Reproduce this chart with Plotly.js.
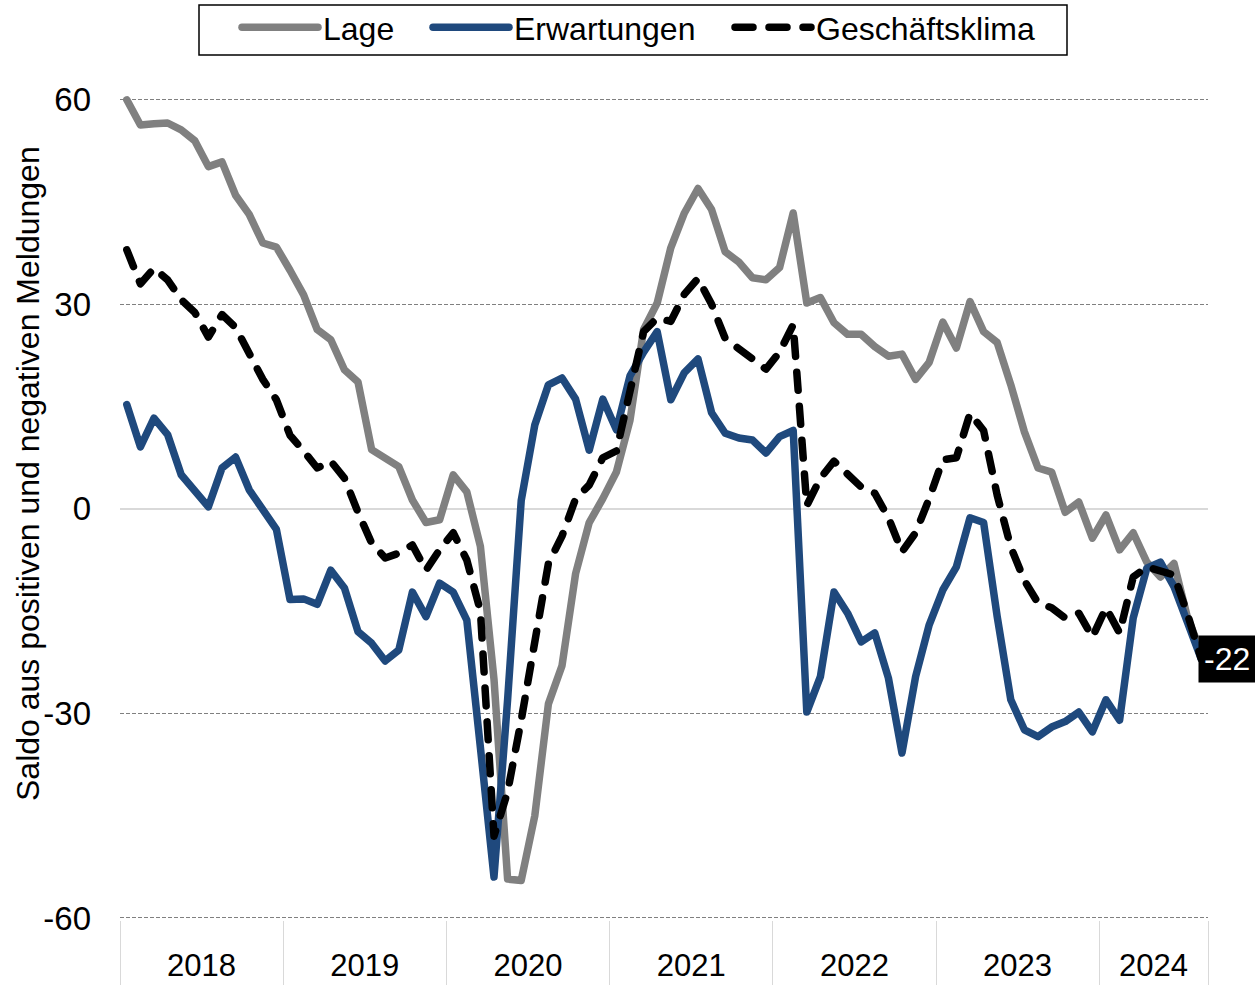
<!DOCTYPE html>
<html>
<head>
<meta charset="utf-8">
<script src="https://cdn.plot.ly/plotly-3.0.1.min.js"></script>
<style>
html,body{margin:0;padding:0;background:#ffffff;}
#chart{width:1255px;height:985px;}
</style>
</head>
<body>
<div id="chart"></div>
<script>
// ---- data (monthly, Jan 2018 - Aug 2024) ----
const years = ['2018','2019','2020','2021','2022','2023','2024'];
const monthsPerYear = [12,12,12,12,12,12,8];

const lage = [
  60, 56.3, 56.5, 56.6, 55.6, 54, 50.2, 50.9, 46, 43.2, 39, 38.4,
  35, 31.4, 26.3, 24.8, 20.4, 18.6, 8.7, 7.5, 6.2, 1.3, -2, -1.6,
  5, 2.5, -5.5, -25, -54.3, -54.5, -45, -28.6, -23, -9.5, -2, 1.5,
  5.4, 13, 26.3, 30.2, 38.3, 43.4, 47, 43.9, 37.7, 36.2, 33.9, 33.6,
  35.4, 43.4, 30.2, 31, 27.3, 25.6, 25.6, 23.8, 22.4, 22.7, 19, 21.5,
  27.4, 23.6, 30.4, 26, 24.4, 18.2, 11.3, 6, 5.4, -0.5, 1, -4.3,
  -0.9, -6, -3.5, -7.8, -10, -8, -16, -21
];

const erwartungen = [
  15.3, 9.1, 13.3, 10.9, 5, 2.8, 0.3, 6, 7.6, 2.8, 0.1, -3,
  -13.3, -13.2, -14, -9, -11.6, -18, -19.7, -22.3, -20.7, -12.2, -15.8, -10.9,
  -12.2, -16.3, -35, -54, -28, 1.2, 12.3, 18.2, 19.2, 16.1, 8.6, 16.1,
  11.6, 19.5, 23, 26, 16, 20, 22, 14.1, 11.1, 10.4, 10.1, 8.2,
  10.6, 11.5, -29.8, -24.6, -12.2, -15.3, -19.5, -18.2, -24.8, -35.8, -24.6, -17,
  -11.9, -8.5, -1.3, -2, -15.8, -28, -32.4, -33.4, -32, -31.2, -29.8, -32.7,
  -28, -31, -16, -8.7, -7.8, -11.4, -16.7, -22
];

const klima = [
  38, 33, 35.3, 33.6, 30.7, 28.8, 25.2, 28.5, 26.6, 23, 19, 16,
  10.8, 8.5, 6, 7, 4.5, -0.5, -5, -7.2, -6.5, -5.3, -9, -6,
  -3.5, -7.5, -15, -48, -41.5, -31, -20, -8, -4, 1.5, 3.5, 7.5,
  8.5, 17, 26, 28, 27.5, 31.5, 33.8, 30, 25, 23.5, 22, 20.5,
  23, 27, 0.5, 4.5, 7, 5, 3.2, 2.3, -1.3, -6.3, -3.5, 1.5,
  7.2, 7.5, 14, 11.5, 2, -5.6, -10.5, -13.8, -14.5, -16, -15.3, -18.8,
  -14.5, -18.2, -10, -8.5, -9, -9.7, -15.5, -22
];

const yTicks = [-60, -30, 0, 30, 60];
const yTitle = 'Saldo aus positiven und negativen Meldungen';
const names = ['Lage', 'Erwartungen', 'Geschäftsklima'];

// ---- derived positions (month index axis) ----
const monthIdx = lage.map((_, i) => i);
const monthLabels = [];
years.forEach((y, k) => { for (let m = 1; m <= monthsPerYear[k]; m++) monthLabels.push(y + '-' + String(m).padStart(2, '0')); });
const bounds = [-0.5], centers = [];
let acc = -0.5;
monthsPerYear.forEach(n => { centers.push(acc + n / 2); acc += n; bounds.push(acc); });

const FONT = '"Liberation Sans", Arial, sans-serif';
const FS = 32;
const LW = 7.5;

const traces = [
  {x: monthIdx, y: lage, text: monthLabels, name: names[0], type: 'scatter', mode: 'lines',
   legend: 'legend', line: {color: '#808080', width: LW}},
  {x: monthIdx, y: erwartungen, text: monthLabels, name: names[1], type: 'scatter', mode: 'lines',
   legend: 'legend2', line: {color: '#1F497D', width: LW}},
  {x: monthIdx, y: klima, text: monthLabels, name: names[2], type: 'scatter', mode: 'lines',
   legend: 'legend3', line: {color: '#000000', width: LW, dash: '18px,16px'}}
];

const lastVal = erwartungen[erwartungen.length - 1];

// plot area: top 93px, bottom 920px (range slightly below -60 so that the -60 gridline shows)
const PT = 93, PB = 920;
const pyToPaper = py => (PB - py) / (PB - PT);
const pxToPaper = px => (px - 120) / 1088;

function legendAt(px) {
  return {orientation: 'h', x: pxToPaper(px), xanchor: 'left', y: pyToPaper(0), yanchor: 'top',
          borderwidth: 0, bgcolor: 'rgba(0,0,0,0)', itemwidth: 76,
          font: {family: FONT, size: FS, color: '#000000'}};
}

const layout = {
  width: 1255, height: 985,
  margin: {l: 120, r: 47, t: PT, b: 985 - PB, autoexpand: false},
  paper_bgcolor: '#ffffff', plot_bgcolor: '#ffffff',
  font: {family: FONT, size: FS, color: '#000000'},
  showlegend: true,
  legend: legendAt(237),
  legend2: legendAt(428),
  legend3: legendAt(730),
  xaxis: {range: [-0.5, monthIdx.length - 0.5], tickmode: 'array', tickvals: centers, ticktext: years,
          ticks: '', showgrid: false, zeroline: false, showline: false,
          ticklabelstandoff: 24, tickfont: {family: FONT, size: 31, color: '#000000'},
          minor: {tickmode: 'array', tickvals: bounds, ticks: 'outside', ticklen: 67,
                  tickcolor: '#d9d9d9', tickwidth: 1, showgrid: false}},
  yaxis: {range: [-60.3, 61], tickmode: 'array', tickvals: yTicks, ticktext: yTicks.map(String),
          showgrid: true, gridcolor: '#808080', gridwidth: 1, griddash: '4px,2px',
          zeroline: true, zerolinecolor: '#d9d9d9', zerolinewidth: 2, showline: false,
          ticks: '', ticklabelstandoff: 28, tickfont: {family: FONT, size: 33, color: '#000000'}},
  shapes: [
    {type: 'rect', xref: 'paper', yref: 'paper', layer: 'above',
     x0: pxToPaper(199), x1: pxToPaper(1067), y0: pyToPaper(55), y1: pyToPaper(5),
     line: {color: '#000000', width: 1.5}, fillcolor: 'rgba(0,0,0,0)'}
  ],
  annotations: [
    {text: yTitle, xref: 'paper', yref: 'paper', x: pxToPaper(28), y: pyToPaper(474), xanchor: 'center', yanchor: 'middle',
     textangle: -90, showarrow: false, font: {family: FONT, size: FS, color: '#000000'}},
    {text: String(Math.round(lastVal)), xref: 'x', yref: 'y', x: monthIdx[monthIdx.length - 1], y: lastVal,
     xanchor: 'left', yanchor: 'middle', xshift: -3, showarrow: false, bgcolor: '#000000', borderpad: 5,
     font: {family: FONT, size: FS, color: '#ffffff'}}
  ]
};

Plotly.newPlot('chart', traces, layout, {displayModeBar: false, staticPlot: true}).then(function () {
  document.querySelectorAll('.js-line').forEach(function (p) {
    p.style.strokeLinecap = 'round';
    p.style.strokeLinejoin = 'round';
  });
});
</script>
</body>
</html>
